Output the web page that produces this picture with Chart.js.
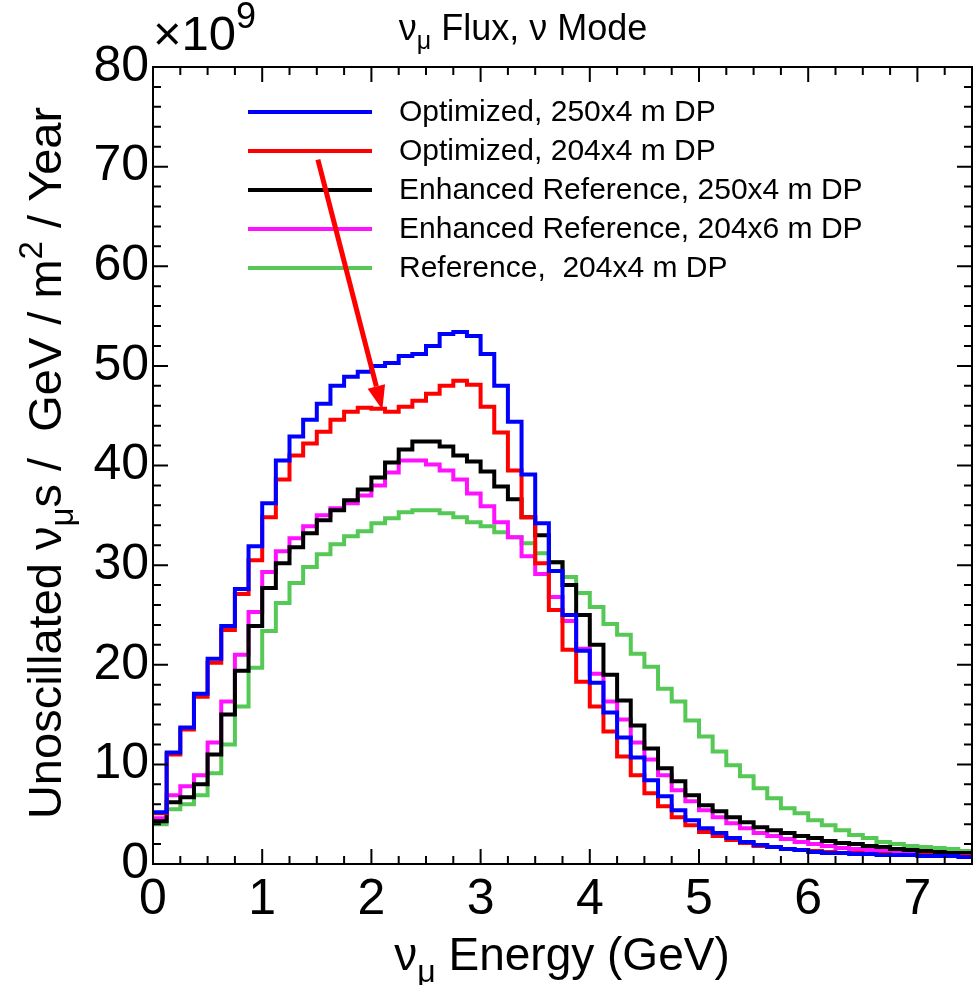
<!DOCTYPE html>
<html>
<head>
<meta charset="utf-8">
<script src="https://cdn.jsdelivr.net/npm/chart.js@4.4.1/dist/chart.umd.min.js"></script>
<style>
  html, body { margin: 0; padding: 0; background: #fff; }
  canvas { display: block; }
</style>
</head>
<body>
<canvas id="chart" width="973" height="985"></canvas>
<script>
// bins of 0.125 GeV starting at 0, values in units of 1e9
const binWidth = 0.125;
const optimized250 = [5.2, 11.2, 13.7, 17.1, 20.6, 23.9, 27.6, 31.9, 36.2, 40.5,
  42.9, 44.6, 46.2, 48.0, 48.9, 49.4, 50.0, 50.3, 51.0, 51.2,
  52.0, 53.2, 53.4, 53.0, 51.2, 48.0, 44.4, 39.1, 34.2, 29.4,
  25.0, 21.4, 18.2, 15.2, 12.7, 10.7, 8.4, 6.8, 5.4, 4.4,
  3.6, 3.1, 2.6, 2.2, 1.9, 1.7, 1.5, 1.4, 1.2, 1.1,
  1.1, 1.0, 1.0, 0.9, 0.9, 0.9, 0.8, 0.8, 0.8, 0.7];
const optimized204 = [5.1, 11.0, 13.5, 16.8, 20.2, 23.5, 27.1, 30.5, 34.8, 38.6,
  41.0, 42.2, 43.4, 44.6, 45.4, 45.8, 45.7, 45.4, 45.9, 46.5,
  47.2, 48.0, 48.5, 48.1, 45.9, 43.3, 39.5, 34.8, 30.2, 25.5,
  21.5, 18.3, 15.8, 13.3, 10.8, 8.9, 7.1, 5.8, 4.7, 3.9,
  3.2, 2.8, 2.4, 2.1, 1.8, 1.7, 1.5, 1.4, 1.3, 1.2,
  1.1, 1.1, 1.0, 1.0, 0.9, 0.9, 0.9, 0.8, 0.8, 0.8];
const enhanced250 = [4.3, 6.2, 6.7, 8.0, 11.0, 15.0, 19.4, 23.9, 27.7, 30.2,
  31.8, 33.2, 34.5, 35.5, 36.5, 37.6, 38.8, 40.3, 41.6, 42.4,
  42.4, 41.9, 41.0, 40.4, 39.4, 37.9, 36.6, 34.8, 33.0, 30.3,
  28.0, 25.0, 22.0, 19.0, 16.4, 13.9, 11.6, 9.6, 8.3, 6.9,
  5.9, 5.3, 4.7, 4.2, 3.7, 3.4, 3.1, 2.8, 2.6, 2.3,
  2.1, 2.0, 1.8, 1.7, 1.5, 1.4, 1.3, 1.2, 1.1, 1.1];
const enhanced204 = [4.6, 6.9, 7.8, 8.9, 12.2, 16.3, 21.0, 25.3, 29.3, 31.4,
  32.7, 33.9, 35.0, 35.7, 36.2, 37.0, 38.0, 39.3, 40.5, 40.5,
  40.1, 39.5, 38.6, 37.2, 35.9, 34.3, 32.8, 30.9, 29.1, 26.8,
  24.4, 21.6, 19.1, 16.3, 14.5, 12.2, 10.5, 8.9, 7.4, 6.3,
  5.4, 4.7, 4.1, 3.6, 3.1, 2.8, 2.5, 2.2, 2.0, 1.8,
  1.6, 1.5, 1.4, 1.3, 1.2, 1.1, 1.0, 1.0, 0.9, 0.9];
const reference204 = [4.0, 5.5, 6.0, 6.9, 9.1, 12.0, 15.8, 19.7, 23.4, 26.2,
  28.2, 29.8, 31.1, 32.1, 32.9, 33.4, 34.2, 34.7, 35.3, 35.5,
  35.5, 35.2, 34.8, 34.3, 33.9, 33.3, 32.8, 32.2, 31.2, 30.3,
  28.8, 27.2, 25.8, 24.1, 23.0, 21.1, 19.8, 17.6, 16.3, 14.4,
  12.8, 11.3, 9.9, 8.8, 7.6, 6.6, 5.6, 5.1, 4.4, 3.9,
  3.4, 2.9, 2.6, 2.2, 2.0, 1.8, 1.7, 1.6, 1.5, 1.3];

const seriesLabels = ['Optimized, 250x4 m DP', 'Optimized, 204x4 m DP',
  'Enhanced Reference, 250x4 m DP', 'Enhanced Reference, 204x6 m DP', 'Reference,  204x4 m DP'];
const seriesColors = ['#0000ff', '#ff0000', '#000000', '#ff10ff', '#55c855'];
const xMax = 7.5, yMax = 80;

// arrow pointing at the dip of the red curve (data units)
const arrowFrom = { x: 1.51, y: 70.7 };
const arrowTo = { x: 2.1, y: 45.6 };

const FONT = "'Liberation Sans', Arial, Helvetica, sans-serif";

function histPoints(vals) {
  const pts = vals.map((v, i) => ({ x: i * binWidth, y: v }));
  pts.push({ x: vals.length * binWidth, y: vals[vals.length - 1] });
  return pts;
}

// text pieces with sub/superscripts
function richText(ctx, parts, x, y, align) {
  let total = 0;
  parts.forEach(p => { ctx.font = p.size + 'px ' + FONT; p.w = ctx.measureText(p.t).width; total += p.w; });
  let cx = align === 'center' ? x - total / 2 : (align === 'right' ? x - total : x);
  ctx.textBaseline = 'alphabetic';
  ctx.textAlign = 'left';
  parts.forEach(p => {
    ctx.font = p.size + 'px ' + FONT;
    ctx.fillText(p.t, cx, y + (p.dy || 0));
    cx += p.w;
  });
}

const frame = {
  id: 'frame',
  afterDraw(chart) {
    const ctx = chart.ctx;
    const a = chart.chartArea;
    const xs = chart.scales.x, ys = chart.scales.y;
    ctx.save();
    ctx.fillStyle = '#000';
    ctx.strokeStyle = '#000';

    // frame
    ctx.lineWidth = 2;
    ctx.strokeRect(a.left, a.top, a.right - a.left, a.bottom - a.top);

    // ticks inside the frame on all sides
    ctx.beginPath();
    for (let v = 0; v <= xMax + 1e-9; v += 0.25) {
      const px = xs.getPixelForValue(v);
      const len = Math.abs(v - Math.round(v)) < 1e-9 ? 15 : 8;
      ctx.moveTo(px, a.bottom); ctx.lineTo(px, a.bottom - len);
      ctx.moveTo(px, a.top); ctx.lineTo(px, a.top + len);
    }
    for (let v = 0; v <= yMax; v += 2) {
      const py = ys.getPixelForValue(v);
      const len = v % 10 === 0 ? 15 : 8;
      ctx.moveTo(a.left, py); ctx.lineTo(a.left + len, py);
      ctx.moveTo(a.right, py); ctx.lineTo(a.right - len, py);
    }
    ctx.stroke();

    // exponent
    richText(ctx, [{ t: '\u00d710', size: 49 }, { t: '9', size: 36, dy: -22 }], a.left, 50, 'left');

    // title
    richText(ctx, [{ t: '\u03bd', size: 36 }, { t: '\u03bc', size: 25, dy: 9 }, { t: ' Flux, \u03bd Mode', size: 36 }],
      523, 40, 'center');

    // x title
    richText(ctx, [{ t: '\u03bd', size: 46 }, { t: '\u03bc', size: 32, dy: 12 }, { t: ' Energy (GeV)', size: 46 }],
      562, 970, 'center');

    // y title
    ctx.save();
    ctx.translate(61, 463);
    ctx.rotate(-Math.PI / 2);
    richText(ctx, [{ t: 'Unoscillated \u03bd', size: 47 }, { t: '\u03bc', size: 33, dy: 12 },
      { t: 's /  GeV / m', size: 47 }, { t: '2', size: 33, dy: -19 }, { t: ' / Year', size: 47 }], 0, 0, 'center');
    ctx.restore();

    // legend
    const rowY = [112, 151, 190, 229, 268];
    chart.data.datasets.forEach((ds, i) => {
      ctx.strokeStyle = ds.borderColor;
      ctx.lineWidth = 4;
      ctx.beginPath();
      ctx.moveTo(248, rowY[i]); ctx.lineTo(372, rowY[i]);
      ctx.stroke();
      ctx.fillStyle = '#000';
      ctx.font = '30px ' + FONT;
      ctx.textAlign = 'left';
      ctx.textBaseline = 'middle';
      ctx.fillText(ds.label, 399, rowY[i] + 1);
    });

    // arrow
    const x0 = xs.getPixelForValue(arrowFrom.x), y0 = ys.getPixelForValue(arrowFrom.y);
    const x1 = xs.getPixelForValue(arrowTo.x), y1 = ys.getPixelForValue(arrowTo.y);
    const ang = Math.atan2(y1 - y0, x1 - x0);
    const head = 24, half = 9;
    const bx = x1 - head * Math.cos(ang), by = y1 - head * Math.sin(ang);
    ctx.strokeStyle = '#ff0000';
    ctx.fillStyle = '#ff0000';
    ctx.lineWidth = 5;
    ctx.beginPath();
    ctx.moveTo(x0, y0); ctx.lineTo(bx, by);
    ctx.stroke();
    ctx.beginPath();
    ctx.moveTo(x1, y1);
    ctx.lineTo(bx + half * Math.sin(ang), by - half * Math.cos(ang));
    ctx.lineTo(bx - half * Math.sin(ang), by + half * Math.cos(ang));
    ctx.closePath();
    ctx.fill();
    ctx.restore();
  }
};

const allSeries = [optimized250, optimized204, enhanced250, enhanced204, reference204];

const data = {
  datasets: allSeries.map((vals, i) => ({
    label: seriesLabels[i],
    data: histPoints(vals),
    borderColor: seriesColors[i],
    backgroundColor: 'rgba(0,0,0,0)',
    borderWidth: 4,
    pointRadius: 0,
    stepped: 'before',
    fill: false,
  }))
};

const config = {
  type: 'line',
  data: data,
  options: {
    responsive: false,
    animation: false,
    devicePixelRatio: 1,
    layout: { padding: { top: 67, right: 1, left: 0, bottom: 0 } },
    plugins: {
      legend: { display: false },
      tooltip: { enabled: false },
      title: { display: false }
    },
    scales: {
      x: {
        type: 'linear',
        min: 0,
        max: xMax,
        grid: { display: false, drawTicks: false },
        border: { display: false },
        ticks: { stepSize: 1, includeBounds: false, color: '#000', padding: 6, maxRotation: 0,
          font: { family: FONT, size: 50 } },
        afterFit(scale) { scale.height = 121; }
      },
      y: {
        min: 0,
        max: yMax,
        grid: { display: false, drawTicks: false },
        border: { display: false },
        ticks: { stepSize: 10, color: '#000', padding: 4, font: { family: FONT, size: 50 } },
        afterFit(scale) { scale.width = 153; }
      }
    }
  },
  plugins: [frame]
};

var chart = new Chart(document.getElementById('chart'), config);
</script>
</body>
</html>
